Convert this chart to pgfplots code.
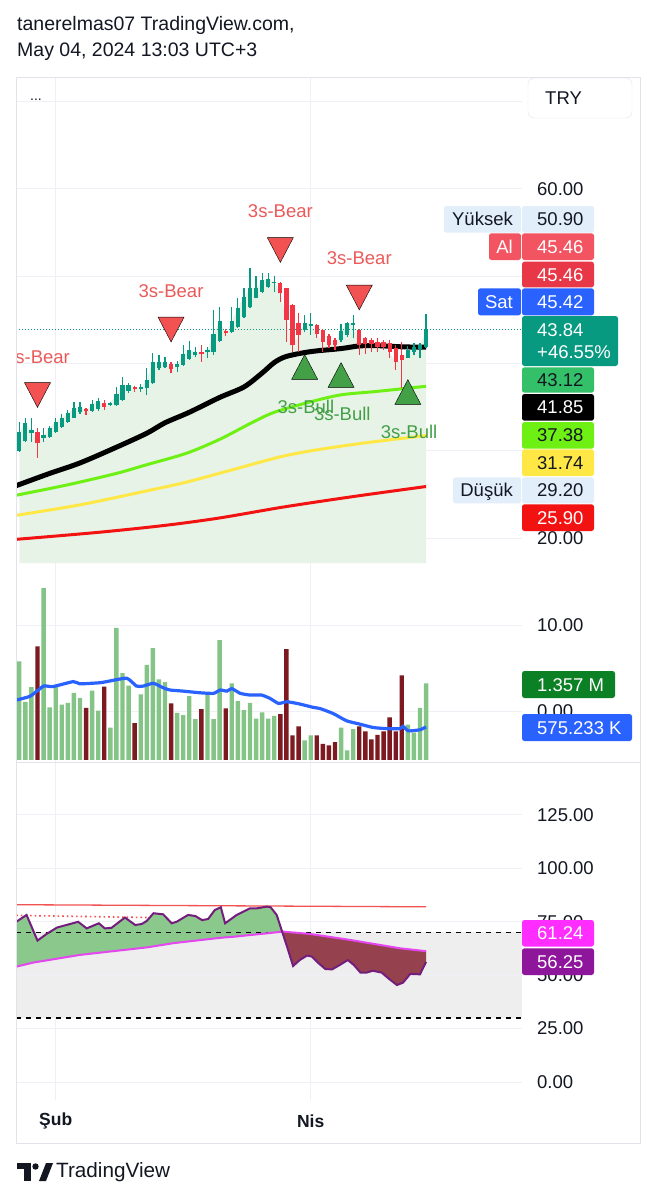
\documentclass[border=0pt]{standalone}
\usepackage{fontspec}
\setmainfont{Liberation Sans}
\usepackage{pgfplots}
\pgfplotsset{compat=1.18}
\usepackage{pgfplotstable}

\definecolor{tvtext}{RGB}{19,23,34}
\definecolor{cgreen}{HTML}{089981}
\definecolor{cred}{HTML}{F23645}
\definecolor{pale}{RGB}{231,243,231}
\definecolor{gridc}{RGB}{238,240,245}
\definecolor{framec}{RGB}{224,227,235}
\definecolor{malime}{RGB}{110,240,20}
\definecolor{mayellow}{RGB}{255,232,70}
\definecolor{mared}{RGB}{242,18,18}
\definecolor{volg}{RGB}{132,196,135}
\definecolor{volr}{RGB}{125,25,32}
\definecolor{tvblue}{RGB}{41,98,255}
\definecolor{bear}{RGB}{242,82,82}
\definecolor{beartxt}{RGB}{234,90,90}
\definecolor{bull}{RGB}{67,160,71}
\definecolor{oscg}{RGB}{138,200,140}
\definecolor{oscr}{RGB}{150,66,78}
\definecolor{rsic}{RGB}{115,30,125}
\definecolor{sigc}{RGB}{228,70,240}
\definecolor{bandc}{RGB}{238,238,238}
\definecolor{lblue}{RGB}{227,238,251}
\definecolor{alred}{RGB}{242,84,97}
\definecolor{red2}{RGB}{232,56,72}
\definecolor{ma1}{RGB}{52,192,105}
\definecolor{vgreen}{RGB}{12,128,36}
\definecolor{tagmag}{RGB}{255,45,255}
\definecolor{tagpur}{RGB}{142,22,155}

\newcommand{\tk}{\fontsize{18.5}{21}\selectfont}
\newcommand{\lab}{\fontsize{18.5}{21}\selectfont}

% value tag on the price scale
\newcommand{\tagbox}[7]{%
  \fill[#1, rounded corners=2.5pt] (#3pt,-#5pt) rectangle (#4pt,-#6pt);
  \node[anchor=west, text=#2, font=\tk, inner sep=0pt, text height=13.2pt, text depth=0pt]
    at (537pt,{-(#5+#6)/2*1pt}) {#7};}
% label tag left of the price scale
\newcommand{\ltag}[7]{%
  \fill[#1, rounded corners=2.5pt] (#3pt,-#5pt) rectangle (#4pt,-#6pt);
  \node[anchor=east, text=#2, font=\tk, inner sep=0pt, text height=13.2pt, text depth=0pt]
    at (513pt,{-(#5+#6)/2*1pt}) {#7};}

\pgfplotstableread{
i o h l c
0 29.97 33.33 29.89 32.11
1 31.11 33.79 31.04 33.14
2 31.99 33.80 31.04 32.37
3 32.18 32.64 29.20 30.85
4 31.42 32.57 31.04 31.80
5 31.61 32.87 31.50 32.64
6 32.18 33.79 32.00 33.33
7 32.76 34.17 32.60 33.79
8 33.33 34.67 33.20 34.28
9 33.79 35.62 33.70 34.86
10 34.40 35.62 34.17 35.05
11 34.78 34.93 34.09 34.55
12 34.59 35.81 34.47 35.35
13 34.78 36.08 34.60 35.70
14 35.43 35.81 34.67 35.05
15 35.24 35.62 35.16 35.43
16 35.24 37.34 35.16 36.46
17 35.81 38.48 35.73 37.53
18 36.84 37.80 36.60 37.53
19 37.34 37.45 36.77 37.07
20 37.07 37.61 36.77 37.30
21 37.15 39.51 36.38 38.10
22 37.72 41.16 37.61 40.20
23 39.44 40.97 39.25 40.13
24 39.63 40.77 39.44 40.13
25 39.90 40.13 38.87 39.36
26 39.63 40.28 39.06 39.90
27 39.82 42.11 39.71 41.04
28 40.51 42.57 40.39 41.54
29 40.97 41.92 40.77 41.35
30 41.35 42.11 40.20 41.04
31 41.27 41.92 40.58 41.54
32 41.27 46.12 40.97 43.33
33 42.57 46.50 42.42 44.86
34 43.71 43.94 43.18 43.45
35 43.64 46.50 43.45 44.86
36 44.21 47.46 44.10 46.31
37 45.36 48.60 45.17 47.65
38 46.50 50.90 46.39 48.60
39 47.53 50.05 47.46 48.60
40 48.22 50.32 48.03 49.56
41 48.79 50.32 48.60 49.67
42 49.17 50.05 48.14 49.37
43 49.17 49.29 47.07 48.03
44 48.60 48.68 42.49 44.97
45 46.69 46.77 41.35 42.11
46 44.59 45.74 41.27 43.26
47 43.83 45.55 43.56 44.59
48 44.29 45.74 43.26 44.48
49 44.40 44.48 42.87 43.33
50 43.83 43.94 41.35 42.49
51 43.18 43.33 41.73 42.11
52 42.68 42.87 41.54 42.11
53 42.68 44.48 42.49 43.71
54 43.26 44.78 43.07 44.59
55 44.40 45.55 42.87 44.59
56 43.83 43.94 40.97 42.11
57 42.95 43.07 41.04 42.19
58 42.68 42.95 41.35 42.19
59 42.49 42.87 41.35 41.92
60 42.42 42.68 41.54 41.92
61 42.30 42.68 40.58 41.27
62 41.73 42.11 39.25 40.13
63 40.97 42.42 37.15 40.39
64 40.66 42.03 40.58 41.54
65 41.35 42.30 40.97 41.92
66 41.65 42.30 40.58 42.11
67 41.92 45.62 41.73 43.84
}\candles

\pgfplotstableread{
i v up
0 1.76 1
1 1.04 1
2 1.30 1
3 2.03 0
4 3.07 1
5 0.94 1
6 1.32 1
7 0.99 1
8 1.02 1
9 1.20 1
10 1.11 1
11 0.93 0
12 1.24 1
13 0.88 1
14 1.31 0
15 0.58 1
16 2.36 1
17 1.55 1
18 1.33 1
19 0.66 0
20 1.17 1
21 1.70 1
22 2.00 1
23 1.44 1
24 1.39 1
25 1.01 0
26 0.84 1
27 0.80 1
28 1.14 1
29 0.73 1
30 0.91 0
31 1.20 1
32 0.73 1
33 2.14 1
34 0.92 0
35 1.37 1
36 1.05 1
37 0.89 1
38 1.02 1
39 0.74 1
40 0.85 1
41 0.74 1
42 0.79 1
43 0.82 0
44 1.98 0
45 0.44 0
46 0.60 0
47 0.35 1
48 0.44 1
49 0.44 0
50 0.29 0
51 0.26 0
52 0.32 0
53 0.58 1
54 0.17 1
55 0.55 1
56 0.60 0
57 0.51 0
58 0.37 0
59 0.45 0
60 0.51 0
61 0.76 0
62 0.51 0
63 1.51 0
64 0.63 1
65 0.49 1
66 0.93 1
67 1.37 1
}\volume

\pgfplotstableread{
x v
-0.5 1.07
1.8 1.14
4.0 1.32
5.5 1.31
8.9 1.40
10.0 1.36
13.3 1.38
14.4 1.40
17.7 1.46
19.3 1.32
20.4 1.32
22.1 1.37
23.7 1.29
24.8 1.25
27.0 1.23
29.8 1.20
32.0 1.19
33.1 1.25
34.2 1.23
35.0 1.275
36.4 1.19
38.0 1.16
39.9 1.16
41.3 1.10
42.7 1.01
44.1 1.04
46.2 1.00
48.4 0.94
49.5 0.92
51.7 0.83
53.9 0.70
56.1 0.64
58.3 0.58
60.5 0.56
62.7 0.56
63.2 0.60
64.1 0.52
66.0 0.54
67.0 0.59
}\volma

\pgfplotstableread{
x v
-0.5 75.0
1.2 78.2
3.0 66.2
4.5 69.3
6.2 72.3
9.7 75.0
11.1 71.9
13.1 74.3
14.1 71.9
15.2 72.2
17.4 77.0
19.1 73.5
20.2 74.0
21.0 75.4
22.1 79.0
23.7 78.5
25.1 74.3
25.9 75.0
27.8 78.2
29.0 77.7
30.1 75.8
31.1 76.3
32.2 80.5
33.2 81.8
33.9 74.3
35.8 78.2
38.0 81.3
39.1 81.3
40.8 82.1
41.4 81.8
42.4 78.2
43.2 71.2
44.1 63.4
45.1 54.3
46.2 57.1
47.4 59.2
48.2 58.7
49.3 55.6
50.4 52.9
51.5 52.7
52.8 54.8
54.1 57.1
55.1 54.8
56.2 51.2
57.2 51.2
58.2 52.1
59.7 51.2
60.8 48.5
62.2 45.4
63.2 46.5
64.4 50.6
66.0 50.4
67.0 56.25
}\rsi

\pgfplotstableread{
x v
-0.5 54.0
2.3 55.9
10.0 59.5
21.0 63.0
25.4 65.0
33.1 67.5
35.3 68.0
40.8 69.6
43.4 70.4
47.9 69.3
54.5 66.5
62.7 62.6
67.0 61.24
}\sig

\pgfplotsset{tvpane/.style={
  scale only axis, width=506pt, anchor=north west,
  xmin=-0.54, xmax=82.8,
  axis line style={draw=none}, tick style={draw=none},
  xtick={6,48}, xticklabels={,},
  xmajorgrids, ymajorgrids,
  major grid style={gridc, line width=1pt},
  yticklabel pos=right,
  yticklabel style={anchor=west, font=\tk, text=tvtext, inner sep=0pt, xshift=15pt},
  clip=true}}

\begin{document}
\begin{tikzpicture}
\fill[white] (0pt,0pt) rectangle (656pt,-1200pt);

% header
\node[anchor=west, inner sep=0pt, text=tvtext, font=\fontsize{19.5}{22}\selectfont] at (17pt,-25pt) {tanerelmas07 TradingView.com,};
\node[anchor=west, inner sep=0pt, text=tvtext, font=\fontsize{19.5}{22}\selectfont] at (17pt,-52pt) {May 04, 2024 13:03 UTC+3};

% ---------------- price pane ----------------
\begin{axis}[tvpane, at={(16pt,-77pt)}, height=486pt,
  ymin=17.14, ymax=72.8,
  ytick={20,30,40,50,60,70}, yticklabels={20.00,,,,60.00,}]
  % pale area under closes
  \addplot[fill=pale, draw=none] table[x=i, y=c] {\candles} \closedcycle;
  % moving averages
  \addplot[mared, line width=3pt, smooth, tension=0.5] coordinates {(-0.5,19.85) (13,20.65) (24,21.45) (33,22.3) (43.5,23.55) (55,24.75) (67,25.9)};
  \addplot[mayellow, line width=3pt, smooth, tension=0.5] coordinates {(-0.5,22.6) (10,23.8) (21,25.4) (27.5,26.4) (35,27.8) (43,29.3) (49,30.1) (57,30.9) (67,31.74)};
  \addplot[malime, line width=3pt, smooth, tension=0.5] coordinates {(-0.5,24.9) (8,26.1) (16,27.4) (21,28.4) (27.5,29.7) (33,31.3) (38,33.1) (42,34.4) (48,35.6) (53,36.4) (59,36.8) (67,37.38)};
  \addplot[black, line width=5pt, smooth, tension=0.5] coordinates {(-0.5,26.0) (5,27.4) (10,28.6) (16,30.4) (21,32.0) (24,33.2) (28,34.4) (33,36.1) (37,37.3) (40,38.9) (42,40.1) (44,40.8) (48,41.35) (53,41.7) (56,42.0) (59,42.03) (63,41.9) (67,41.85)};
  % last price line
  \addplot[cgreen, line width=1pt, dash pattern=on 1pt off 2pt] coordinates {(-0.54,43.84) (82.8,43.84)};
  % wicks
  \addplot[draw=none, mark=none, restrict expr to domain={\thisrow{c}-\thisrow{o}}{0:100},
    error bars/.cd, y dir=plus, y explicit, error mark=none,
    error bar style={draw=cgreen, line width=1.2pt}]
    table[x=i, y=l, y error plus expr={\thisrow{h}-\thisrow{l}}] {\candles};
  \addplot[draw=none, mark=none, restrict expr to domain={\thisrow{c}-\thisrow{o}}{-100:-0.0001},
    error bars/.cd, y dir=plus, y explicit, error mark=none,
    error bar style={draw=cred, line width=1.2pt}]
    table[x=i, y=l, y error plus expr={\thisrow{h}-\thisrow{l}}] {\candles};
  % bodies
  \addplot[draw=none, mark=none, restrict expr to domain={\thisrow{c}-\thisrow{o}}{0:100},
    error bars/.cd, y dir=plus, y explicit, error mark=none,
    error bar style={draw=cgreen, line width=4.2pt}]
    table[x=i, y expr={min(\thisrow{o},\thisrow{c})}, y error plus expr={abs(\thisrow{c}-\thisrow{o})}] {\candles};
  \addplot[draw=none, mark=none, restrict expr to domain={\thisrow{c}-\thisrow{o}}{-100:-0.0001},
    error bars/.cd, y dir=plus, y explicit, error mark=none,
    error bar style={draw=cred, line width=4.2pt}]
    table[x=i, y expr={min(\thisrow{o},\thisrow{c})}, y error plus expr={abs(\thisrow{c}-\thisrow{o})}] {\candles};
  % signals
  \addplot[only marks, mark=triangle*, mark size=15pt, mark options={draw=none, fill=bear, rotate=180, yscale=1.1}]
    coordinates {(3,36.85) (25,44.35) (43,53.46) (56,48.02)};
  \addplot[only marks, mark=triangle*, mark size=15pt, mark options={draw=none, fill=bull, yscale=1.1}]
    coordinates {(47,39.12) (53,38.20) (64,36.25)};
  \node[text=beartxt, font=\lab, inner sep=0pt] at (axis cs:3,40.73) {3s-Bear};
  \node[text=beartxt, font=\lab, inner sep=0pt] at (axis cs:25,48.29) {3s-Bear};
  \node[text=beartxt, font=\lab, inner sep=0pt] at (axis cs:43,57.46) {3s-Bear};
  \node[text=beartxt, font=\lab, inner sep=0pt] at (axis cs:56,52.07) {3s-Bear};
  \node[text=bull, font=\lab, inner sep=0pt] at (axis cs:47.2,35.0) {3s-Bull};
  \node[text=bull, font=\lab, inner sep=0pt] at (axis cs:53.2,34.2) {3s-Bull};
  \node[text=bull, font=\lab, inner sep=0pt] at (axis cs:64.2,32.14) {3s-Bull};
\end{axis}

% ---------------- volume pane ----------------
\begin{axis}[tvpane, at={(16pt,-563pt)}, height=199pt,
  ymin=-0.036, ymax=3.518,
  ytick={0.875,2.41}, yticklabels={0.00,10.00}]
  \addplot[ybar, bar width=0.72, bar shift=0pt, fill=volg, draw=none,
    restrict expr to domain={\thisrow{up}}{0.5:1.5}] table[x=i, y=v] {\volume};
  \addplot[ybar, bar width=0.72, bar shift=0pt, fill=volr, draw=none,
    restrict expr to domain={\thisrow{up}}{-0.5:0.5}] table[x=i, y=v] {\volume};
  \addplot[tvblue, line width=3.2pt, smooth, tension=0.3] table[x=x, y=v] {\volma};
\end{axis}

% ---------------- oscillator pane ----------------
\begin{axis}[tvpane, at={(16pt,-762pt)}, height=338pt,
  ymin=-8.43, ymax=149.8,
  ytick={0,25,50,75,100,125}, yticklabels={0.00,25.00,50.00,75.00,100.00,125.00},
  xticklabels={\textbf{Şub},\textbf{Nis}},
  xticklabel style={font=\fontsize{17.5}{20}\selectfont, text=tvtext, anchor=center, yshift=-21pt}]
  % 30-70 band
  \addplot[draw=none, fill=bandc] coordinates {(-0.54,30) (82.8,30) (82.8,70) (-0.54,70)} -- cycle;
  \addplot[gridc, line width=1pt] coordinates {(-0.54,50) (82.8,50)};
  % area where the oscillator is above its signal
  \addplot[draw=none, fill=oscg] coordinates {
    (-0.5,75.0) (1.2,78.2) (3.0,66.2) (4.5,69.3) (6.2,72.3) (9.7,75.0) (11.1,71.9) (13.1,74.3)
    (14.1,71.9) (15.2,72.2) (17.4,77.0) (19.1,73.5) (20.2,74.0) (21.0,75.4) (22.1,79.0) (23.7,78.5)
    (25.1,74.3) (25.9,75.0) (27.8,78.2) (29.0,77.7) (30.1,75.8) (31.1,76.3) (32.2,80.5) (33.2,81.8)
    (33.9,74.3) (35.8,78.2) (38.0,81.3) (39.1,81.3) (40.8,82.1) (41.4,81.8) (42.4,78.2) (43.2,71.2)
    (43.3,70.3) (40.8,69.6) (35.3,68.0) (33.1,67.5) (25.4,65.0) (21.0,63.0) (10.0,59.5) (2.3,55.9) (-0.5,54.0)} -- cycle;
  % area where the oscillator is below its signal
  \addplot[draw=none, fill=oscr] coordinates {
    (43.3,70.3) (44.1,63.4) (45.1,54.3) (46.2,57.1) (47.4,59.2) (48.2,58.7) (49.3,55.6) (50.4,52.9)
    (51.5,52.7) (52.8,54.8) (54.1,57.1) (55.1,54.8) (56.2,51.2) (57.2,51.2) (58.2,52.1) (59.7,51.2)
    (60.8,48.5) (62.2,45.4) (63.2,46.5) (64.4,50.6) (66.0,50.4) (67.0,56.25)
    (67.0,61.24) (62.7,62.6) (54.5,66.5) (47.9,69.3) (43.4,70.4)} -- cycle;
  \addplot[black, line width=1.3pt, dash pattern=on 5pt off 5pt] coordinates {(-0.54,70) (82.8,70)};
  \addplot[black, line width=1.3pt, dash pattern=on 5pt off 5pt] coordinates {(-0.54,30) (82.8,30)};
  \addplot[bear, line width=1.3pt] coordinates {(-0.5,83.0) (67,82.0)};
  \addplot[bear, line width=1.6pt, dash pattern=on 1.6pt off 3pt] coordinates {(-0.5,78.0) (21,77.0)};
  \addplot[sigc, line width=2pt] table[x=x, y=v] {\sig};
  \addplot[rsic, line width=2pt] table[x=x, y=v] {\rsi};
\end{axis}

% cover overflow at the left edge
\fill[white] (0pt,-77pt) rectangle (15.5pt,-563pt);

% frame and separators
\draw[framec, line width=1pt] (16pt,-77pt) rectangle (640pt,-1143pt);
\draw[framec, line width=1pt] (16pt,-762pt) -- (640pt,-762pt);

% top bar
\node[anchor=west, inner sep=0pt, text=tvtext, font=\fontsize{14}{16}\selectfont] at (30pt,-100pt) {...};
\draw[framec, fill=white, rounded corners=6pt] (528pt,-78pt) rectangle (632pt,-118pt);
\node[anchor=west, inner sep=0pt, text=tvtext, font=\tk] at (545pt,-98pt) {TRY};

% price scale tags
\ltag{lblue}{tvtext}{444}{521}{206}{232.7}{Yüksek}
\tagbox{lblue}{tvtext}{522}{594}{206}{232.7}{50.90}
\ltag{alred}{white}{489}{521}{233.3}{260}{Al}
\tagbox{alred}{white}{522}{594}{233.3}{260}{45.46}
\tagbox{red2}{white}{522}{594}{261.7}{287.3}{45.46}
\ltag{tvblue}{white}{478}{521}{288.3}{315.3}{Sat}
\tagbox{tvblue}{white}{522}{594}{288.3}{315.3}{45.42}
\fill[cgreen, rounded corners=2.5pt] (522pt,-316pt) rectangle (618pt,-366pt);
\node[anchor=west, text=white, font=\tk, inner sep=0pt, text height=13.2pt, text depth=0pt] at (537pt,-330pt) {43.84};
\node[anchor=west, text=white, font=\tk, inner sep=0pt, text height=13.2pt, text depth=0pt] at (537pt,-352pt) {+46.55\%};
\tagbox{ma1}{tvtext}{522}{594}{367.3}{392.7}{43.12}
\tagbox{black}{white}{522}{594}{394}{420.7}{41.85}
\tagbox{malime}{tvtext}{522}{594}{422}{448.7}{37.38}
\tagbox{mayellow}{tvtext}{522}{594}{449.3}{476}{31.74}
\ltag{lblue}{tvtext}{453}{521}{477.3}{503.3}{Düşük}
\tagbox{lblue}{tvtext}{522}{594}{477.3}{503.3}{29.20}
\tagbox{mared}{white}{522}{594}{504.3}{531}{25.90}

% volume tags
\tagbox{vgreen}{white}{522}{615}{671}{698}{1.357 M}
\tagbox{tvblue}{white}{522}{632}{714}{741}{575.233 K}

% oscillator tags
\tagbox{tagmag}{white}{522}{594}{920}{946.5}{61.24}
\tagbox{tagpur}{white}{522}{594}{948.3}{975}{56.25}

% TradingView logo
\fill[tvtext] (17pt,-1163pt) rectangle (31pt,-1169pt);
\fill[tvtext] (24pt,-1163pt) rectangle (31pt,-1181pt);
\fill[tvtext] (35.5pt,-1166.5pt) circle (3.2pt);
\fill[tvtext] (39pt,-1181pt) -- (46pt,-1163pt) -- (53pt,-1163pt) -- (46pt,-1181pt) -- cycle;
\node[anchor=west, inner sep=0pt, text=tvtext, font=\fontsize{20.7}{24}\selectfont] at (56pt,-1172pt) {TradingView};

\pgfresetboundingbox
\path[use as bounding box] (0pt,0pt) rectangle (656pt,-1200pt);
\end{tikzpicture}
\end{document}
